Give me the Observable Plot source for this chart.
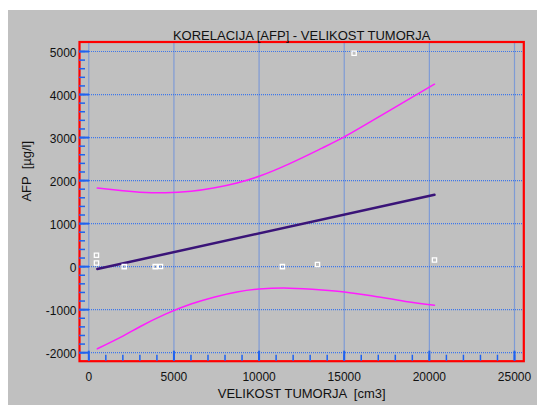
<!DOCTYPE html>
<html>
<head>
<meta charset="utf-8">
<script src="https://cdn.jsdelivr.net/npm/d3@7"></script>
<script src="https://cdn.jsdelivr.net/npm/@observablehq/plot@0.6"></script>
<style>
  html, body { margin: 0; padding: 0; background: #ffffff; }
  #wrap { position: relative; width: 537px; height: 405px; overflow: hidden; }
  #bg { position: absolute; left: 8px; top: 10px; width: 529px; height: 395px; background: #c0c0c0; }
  #chart { position: absolute; left: 0; top: 0; }
</style>
</head>
<body>
<div id="wrap"><div id="bg"></div><div id="chart"></div></div>
<script>
// ---- data ----
const titleText = "KORELACIJA [AFP] - VELIKOST TUMORJA";
const xLabelText = "VELIKOST TUMORJA \u00a0[cm3]";
const yLabelText = "AFP \u00a0[µg/l]";

const xTicks = [0, 5000, 10000, 15000, 20000, 25000];
const yTicks = [-2000, -1000, 0, 1000, 2000, 3000, 4000, 5000];
const xMinorTicks = d3.range(0, 25001, 1000);
const yMinorTicks = d3.range(-2000, 5001, 200);

// observations (tumour size, AFP)
const sizeX = [450, 450, 2080, 3900, 4210, 11370, 13430, 15580, 20300];
const afpY  = [265, 85, 0, 0, 5, 0, 50, 4960, 155];

// regression line
const fitX = [500, 20300];
const fitY = [-55, 1670];

// confidence band curves
const bandX  = [500, 2000, 3000, 4500, 6000, 7400, 8700, 10000, 11800, 13700, 15000, 16600, 18600, 20300];
const upperY = [1825, 1762, 1730, 1715, 1750, 1832, 1945, 2100, 2395, 2755, 3015, 3380, 3845, 4240];
const lowerY = [-1910, -1615, -1397, -1105, -870, -705, -590, -522, -500, -542, -588, -677, -810, -895];

// ---- build tables ----
const points = sizeX.map((x, i) => ({x, y: afpY[i]}));
const fit = fitX.map((x, i) => ({x, y: fitY[i]}));
const upper = bandX.map((x, i) => ({x, y: upperY[i]}));
const lower = bandX.map((x, i) => ({x, y: lowerY[i]}));

// ---- layout ----
const W = 537, H = 405;
const mL = 79, mR = 13.7, mT = 41.5, mB = 44.3;
const frameW = W - mL - mR, frameH = H - mT - mB;
const blue = "#2f6ff0";
const tickBlue = "#1f62f0";

const chart = Plot.plot({
  width: W,
  height: H,
  marginLeft: mL,
  marginRight: mR,
  marginTop: mT,
  marginBottom: mB,
  style: {background: "transparent", fontFamily: "'Liberation Sans', Arial, sans-serif", fontSize: "12px", color: "#111"},
  x: {domain: [-546, 25546]},
  y: {domain: [-2198, 5221]},
  marks: [
    // dotted grid
    Plot.ruleX(xTicks, {x: d => d, stroke: blue, strokeWidth: 1.2, strokeOpacity: 0.9, strokeDasharray: "1,1"}),
    Plot.ruleY(yTicks, {y: d => d, stroke: blue, strokeWidth: 1.2, strokeOpacity: 0.9, strokeDasharray: "1,1"}),
    // axes labels
    Plot.axisX(xTicks, {tickSize: 0, tickPadding: 11, tickFormat: d => String(d), fontSize: 12, label: null}),
    Plot.axisY(yTicks, {tickSize: 0, tickPadding: 3, dy: 1.5, tickFormat: d => String(d), fontSize: 12, label: null}),
    // confidence band
    Plot.line(upper, {x: "x", y: "y", stroke: "#ff1cff", strokeWidth: 1.5, curve: "natural"}),
    Plot.line(lower, {x: "x", y: "y", stroke: "#ff1cff", strokeWidth: 1.5, curve: "natural"}),
    // regression line
    Plot.line(fit, {x: "x", y: "y", stroke: "#3a1478", strokeWidth: 2.5}),
    // observations
    Plot.dot(points, {x: "x", y: "y", symbol: "square", r: 2.4, stroke: "white", strokeWidth: 1.3, fill: "none"}),
    // frame
    Plot.frame({stroke: "#ff0000", strokeWidth: 2.2}),
    // inner tick marks
    Plot.tickX(xMinorTicks, {x: d => d, insetTop: frameH - 6, stroke: tickBlue, strokeWidth: 1.5}),
    Plot.tickX(xTicks, {x: d => d, insetTop: frameH - 10, stroke: tickBlue, strokeWidth: 2}),
    Plot.tickY(yMinorTicks, {y: d => d, insetRight: frameW - 6, stroke: tickBlue, strokeWidth: 1.5}),
    Plot.tickY(yTicks, {y: d => d, insetRight: frameW - 10, stroke: tickBlue, strokeWidth: 2}),
    // titles
    Plot.text([titleText], {text: d => d, frameAnchor: "top", dy: -11.5, fontSize: 13, fill: "#111"}),
    Plot.text([xLabelText], {text: d => d, frameAnchor: "bottom", dy: 36.3, fontSize: 13, fill: "#111"}),
    Plot.text([yLabelText], {text: d => d, frameAnchor: "left", dx: -52.3, rotate: -90, fontSize: 13, fill: "#111"})
  ]
});
document.getElementById("chart").appendChild(chart);
</script>
</body>
</html>
